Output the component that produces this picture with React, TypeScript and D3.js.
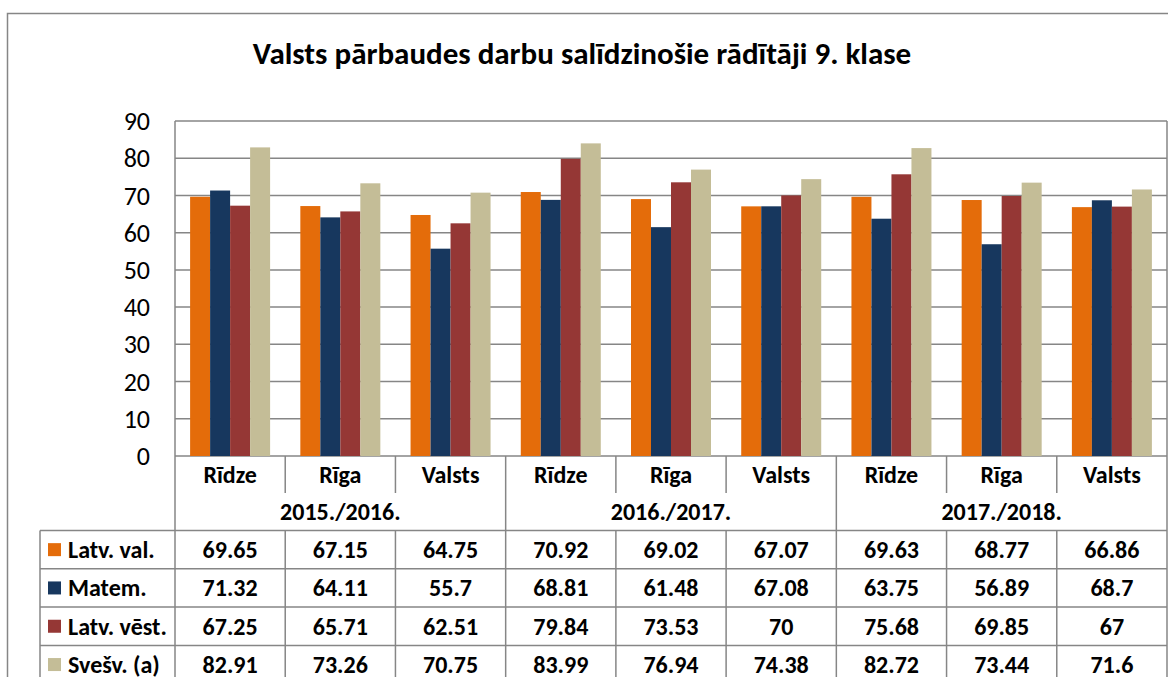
import React from "react";
import * as d3 from "d3";

const years = ["2015./2016.", "2016./2017.", "2017./2018."];
const places = ["Rīdze", "Rīga", "Valsts"];
const seriesNames = ["Latv. val.", "Matem.", "Latv. vēst.", "Svešv. (a)"];
const seriesColors = ["#E46C0A", "#17375E", "#953735", "#C4BD97"];
const latvVal = [69.65, 67.15, 64.75, 70.92, 69.02, 67.07, 69.63, 68.77, 66.86];
const matem = [71.32, 64.11, 55.7, 68.81, 61.48, 67.08, 63.75, 56.89, 68.7];
const latvVest = [67.25, 65.71, 62.51, 79.84, 73.53, 70, 75.68, 69.85, 67];
const svesv = [82.91, 73.26, 70.75, 83.99, 76.94, 74.38, 82.72, 73.44, 71.6];
const yTicks = [0, 10, 20, 30, 40, 50, 60, 70, 80, 90];

const seriesValues = [latvVal, matem, latvVest, svesv];
const categories = years.flatMap((y) => places.map((p) => `${y}|${p}`));

const FONT = "Carlito, Calibri, Lato, 'Open Sans', sans-serif";
const GRID = "#868686";
const TFS = 24;

export default function App() {
  const W = 1168, H = 677;
  const plotL = 175, plotR = 1167, plotT = 121, plotB = 456;
  const x0 = d3.scaleBand<string>().domain(categories).range([plotL, plotR]);
  const step = x0.step();
  const x1 = d3.scaleBand<number>().domain([0, 1, 2, 3]).range([(step - 80) / 2, (step + 80) / 2]);
  const y = d3.scaleLinear().domain([0, 90]).range([plotB, plotT]);

  const hdrB = 493, yearB = 530.5, rowH = 38.3;
  const tableL = 40;
  const rowTops = seriesNames.map((_, i) => yearB + i * rowH);

  return (
    <div style={{ position: "fixed", left: 0, top: 0 }}>
      <svg width={W} height={H} style={{ display: "block", background: "#fff" }} fontFamily={FONT}>
        <rect x={7.5} y={13.5} width={W + 20} height={H + 20} fill="#fff" stroke={GRID} strokeWidth={1.5} />
        <text x={582} y={64} textAnchor="middle" fontSize={31} fontWeight="bold" fill="#000">
          Valsts pārbaudes darbu salīdzinošie rādītāji 9. klase
        </text>
        {yTicks.map((t) => (
          <g key={t}>
            <line x1={plotL} x2={plotR} y1={y(t)} y2={y(t)} stroke={GRID} strokeWidth={1.5} />
            <text x={150} y={y(t)} dy="0.35em" textAnchor="end" fontSize={26} fill="#000">{t}</text>
          </g>
        ))}
        {categories.map((c, ci) => (
          <g key={c} transform={`translate(${x0(c)},0)`}>
            {seriesValues.map((vals, si) => (
              <rect key={si} x={x1(si)} width={x1.bandwidth()} y={y(vals[ci])} height={plotB - y(vals[ci])} fill={seriesColors[si]} />
            ))}
          </g>
        ))}
        <line x1={plotL} x2={plotL} y1={plotT} y2={H} stroke={GRID} strokeWidth={1.5} />
        <line x1={plotR} x2={plotR} y1={plotT} y2={H} stroke={GRID} strokeWidth={1.5} />
        {categories.map((c, ci) => (
          <g key={c}>
            <text x={(x0(c) as number) + step / 2} y={(plotB + hdrB) / 2} dy="0.35em" textAnchor="middle" fontSize={TFS} fontWeight="bold">
              {c.split("|")[1]}
            </text>
            {ci > 0 && (
              <line x1={x0(c)} x2={x0(c)} y1={plotB} y2={ci % 3 === 0 ? H : hdrB} stroke={GRID} strokeWidth={1.5} />
            )}
            {ci > 0 && ci % 3 !== 0 && (
              <line x1={x0(c)} x2={x0(c)} y1={yearB} y2={H} stroke={GRID} strokeWidth={1.5} />
            )}
          </g>
        ))}
        {years.map((yr) => (
          <text key={yr} x={(x0(`${yr}|${places[0]}`) as number) + step * 1.5} y={(hdrB + yearB) / 2} dy="0.35em" textAnchor="middle" fontSize={TFS} fontWeight="bold">
            {yr}
          </text>
        ))}
        <line x1={tableL} x2={tableL} y1={yearB} y2={H} stroke={GRID} strokeWidth={1.5} />
        {rowTops.map((rt, i) => (
          <line key={i} x1={tableL} x2={plotR} y1={rt} y2={rt} stroke={GRID} strokeWidth={1.5} />
        ))}
        {seriesNames.map((name, si) => (
          <g key={name}>
            <rect x={48} y={rowTops[si] + rowH / 2 - 6.5} width={13} height={13} fill={seriesColors[si]} />
            <text x={68} y={rowTops[si] + rowH / 2} dy="0.35em" fontSize={TFS} fontWeight="bold">{name}</text>
            {categories.map((c, ci) => (
              <text key={c} x={(x0(c) as number) + step / 2} y={rowTops[si] + rowH / 2} dy="0.35em" textAnchor="middle" fontSize={TFS} fontWeight="bold">
                {String(seriesValues[si][ci])}
              </text>
            ))}
          </g>
        ))}
      </svg>
    </div>
  );
}
